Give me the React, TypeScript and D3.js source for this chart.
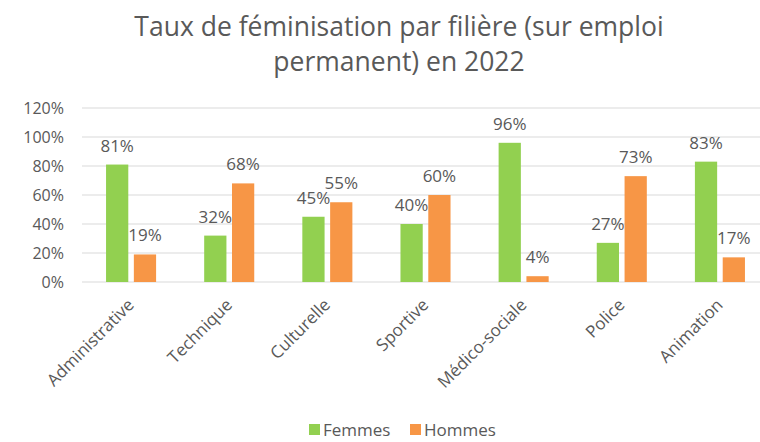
import React from 'react';
import * as d3 from 'd3';

const categories = ['Administrative', 'Technique', 'Culturelle', 'Sportive', 'Médico-sociale', 'Police', 'Animation'];
const femmes = [81, 32, 45, 40, 96, 27, 83];
const hommes = [19, 68, 55, 60, 4, 73, 17];
const seriesNames = ['Femmes', 'Hommes'];
const yTicks = [0, 20, 40, 60, 80, 100, 120];

const colors = ['#92d050', '#f79646'];
const textColor = '#595959';
const font = '"Open Sans", Lato, sans-serif';

export default function App() {
  const width = 760;
  const height = 442;
  const margin = { top: 108, right: -9, bottom: 160, left: 82 };

  const x0 = d3.scaleBand()
    .domain(categories)
    .range([margin.left, width - margin.right])
    .paddingInner(0.49)
    .paddingOuter(0.245);

  const x1 = d3.scaleBand()
    .domain(seriesNames)
    .range([0, x0.bandwidth()])
    .paddingInner(0.2);

  const y = d3.scaleLinear()
    .domain([0, 120])
    .range([282, margin.top]);

  const rows = categories.map((c, i) => ({ cat: c, values: [femmes[i], hommes[i]] }));

  return (
    <svg width={width} height={height} style={{ display: 'block', position: 'absolute', left: 0, top: 0 }} fontFamily={font}>
      <rect width={width} height={height} fill="#fff" />

      {/* Title */}
      <text x={399} y={36} textAnchor="middle" fontSize={26.5} fill={textColor}>
        Taux de féminisation par filière (sur emploi
      </text>
      <text x={399} y={71} textAnchor="middle" fontSize={26.5} fill={textColor}>
        permanent) en 2022
      </text>

      {/* Grid */}
      {yTicks.map(t => (
        <g key={t}>
          <line x1={margin.left} x2={width} y1={y(t)} y2={y(t)} stroke="#d9d9d9" strokeWidth={1} />
          <text x={64} y={y(t)} dy="0.35em" textAnchor="end" fontSize={16} fill={textColor}>{t}%</text>
        </g>
      ))}

      {/* Bars */}
      {rows.map(r => (
        <g key={r.cat} transform={`translate(${x0(r.cat)},0)`}>
          {r.values.map((v, j) => (
            <g key={j}>
              <rect
                x={x1(seriesNames[j])}
                y={y(v)}
                width={x1.bandwidth()}
                height={y(0) - y(v)}
                fill={colors[j]}
              />
              <text
                x={(x1(seriesNames[j]) ?? 0) + x1.bandwidth() / 2}
                y={y(v) - 13}
                textAnchor="middle"
                fontSize={17}
                fill={textColor}
              >
                {v}%
              </text>
            </g>
          ))}
        </g>
      ))}

      {/* Category labels */}
      {categories.map(c => {
        const cx = (x0(c) ?? 0) + x0.bandwidth() / 2;
        return (
          <text
            key={c}
            transform={`translate(${cx - 5},${297}) rotate(-45)`}
            textAnchor="end"
            dy="0.75em"
            fontSize={17}
            fill={textColor}
          >
            {c}
          </text>
        );
      })}

      {/* Legend */}
      {seriesNames.map((s, i) => {
        const lx = 309 + i * 101;
        return (
          <g key={s}>
            <rect x={lx} y={424} width={11} height={11} fill={colors[i]} />
            <text x={lx + 14} y={436} fontSize={17} fill={textColor}>{s}</text>
          </g>
        );
      })}
    </svg>
  );
}
